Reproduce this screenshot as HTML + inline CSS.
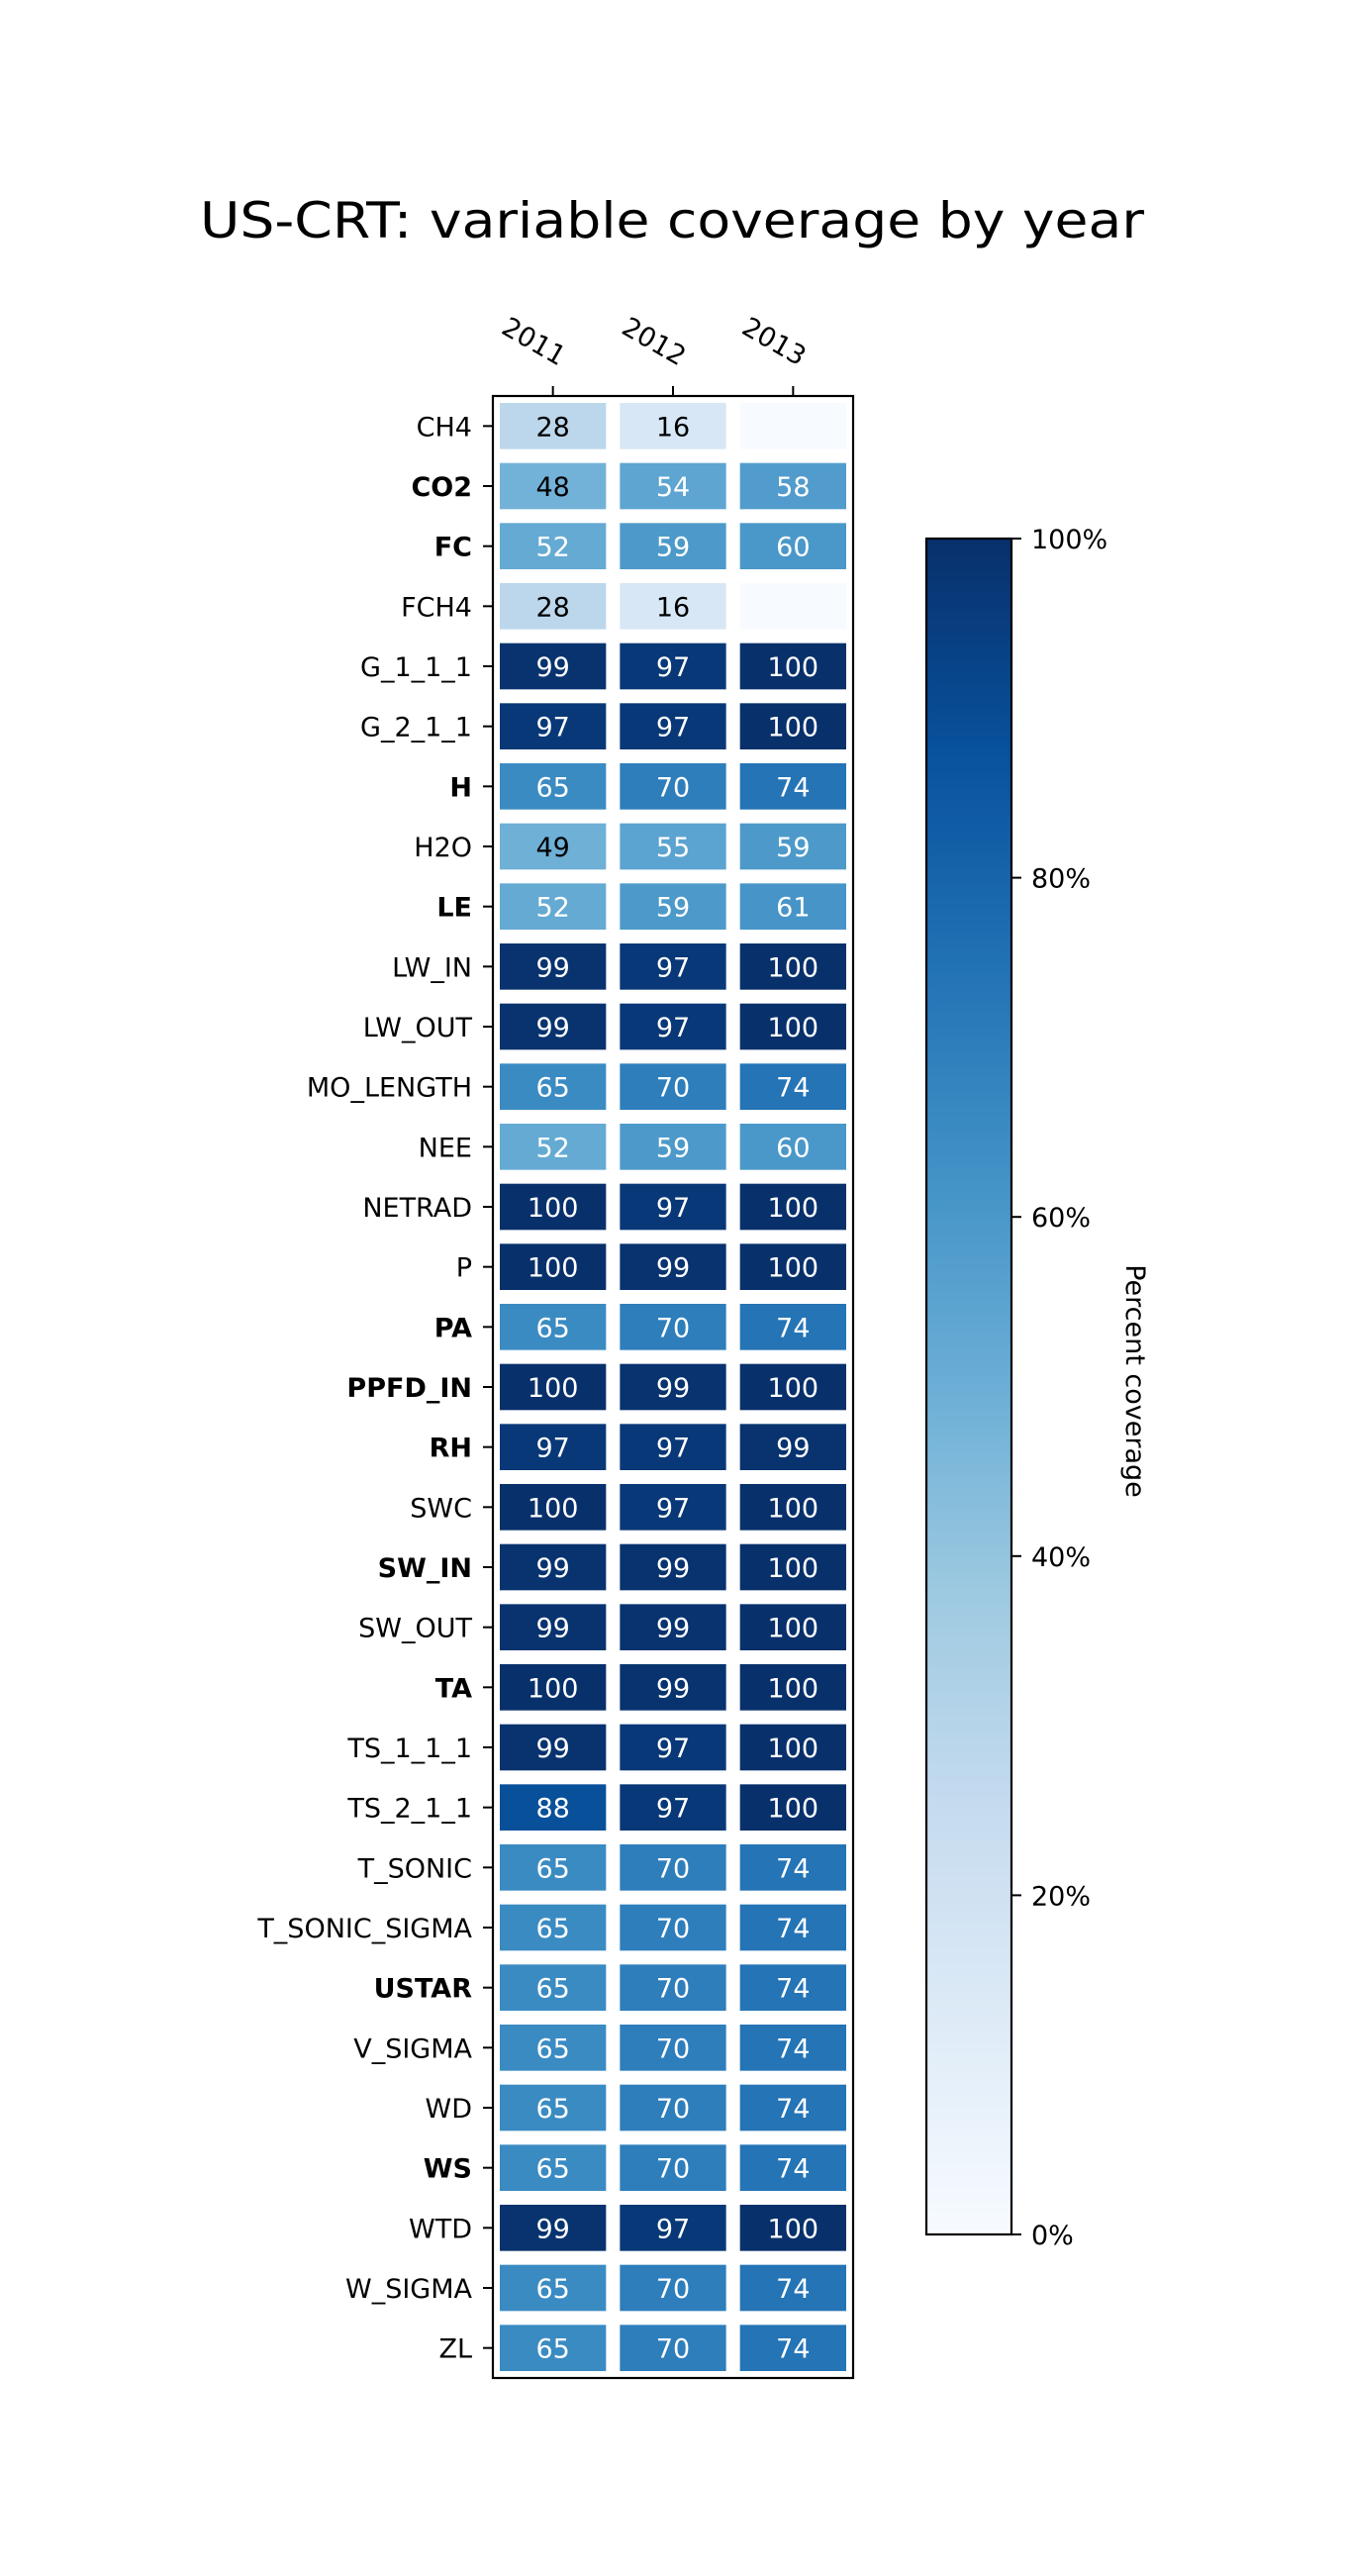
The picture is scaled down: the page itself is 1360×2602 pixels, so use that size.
<!DOCTYPE html>
<html><head><meta charset="utf-8"><style>
html,body{margin:0;padding:0;background:#fff;}
svg{display:block;font-family:"DejaVu Sans","Liberation Sans",sans-serif;}
</style></head><body>
<svg id="chart" width="1360" height="2602" viewBox="0 0 1360 2602" xmlns="http://www.w3.org/2000/svg">
<rect width="1360" height="2602" fill="#fff"/>
<text x="679" y="240" font-size="50" text-anchor="middle" textLength="954" lengthAdjust="spacingAndGlyphs">US-CRT: variable coverage by year</text>
<g id="heat"></g>
<g id="cbar"></g>
</svg>
<script>
const years = ["2011","2012","2013"];
const variables = ["CH4","CO2","FC","FCH4","G_1_1_1","G_2_1_1","H","H2O","LE","LW_IN","LW_OUT","MO_LENGTH","NEE","NETRAD","P","PA","PPFD_IN","RH","SWC","SW_IN","SW_OUT","TA","TS_1_1_1","TS_2_1_1","T_SONIC","T_SONIC_SIGMA","USTAR","V_SIGMA","WD","WS","WTD","W_SIGMA","ZL"];
const boldVars = ["CO2","FC","H","LE","PA","PPFD_IN","RH","SW_IN","TA","USTAR","WS"];
const cov2011 = [28,48,52,28,99,97,65,49,52,99,99,65,52,100,100,65,100,97,100,99,99,100,99,88,65,65,65,65,65,65,99,65,65];
const cov2012 = [16,54,59,16,97,97,70,55,59,97,97,70,59,97,99,70,99,97,97,99,99,99,97,97,70,70,70,70,70,70,97,70,70];
const cov2013 = [null,58,60,null,100,100,74,59,61,100,100,74,60,100,100,74,100,99,100,100,100,100,100,100,74,74,74,74,74,74,100,74,74];
const cbarTicks = [0,20,40,60,80,100];

const NS="http://www.w3.org/2000/svg";
function mk(tag, attrs, parent){const e=document.createElementNS(NS,tag);for(const k in attrs)e.setAttribute(k,attrs[k]);parent.appendChild(e);return e;}
const stops=["#f7fbff","#deebf7","#c6dbef","#9ecae1","#6baed6","#4292c6","#2171b5","#08519c","#08306b"];
function hex(h){return [1,3,5].map(i=>parseInt(h.substr(i,2),16));}
function blues(t){t=Math.max(0,Math.min(1,t));const p=t*8;const i=Math.min(7,Math.floor(p));const f=p-i;const a=hex(stops[i]),b=hex(stops[i+1]);return "rgb("+a.map((v,k)=>Math.round(v+(b[k]-v)*f)).join(",")+")";}

const AX={l:498,r:862,t:400,b:2402};
const cw=(AX.r-AX.l)/years.length, rh=(AX.b-AX.t)/variables.length;
const xC=i=>AX.l+cw*(i+0.5), yC=j=>AX.t+rh*(j+0.5);
const series=[cov2011,cov2012,cov2013];
const heat=document.getElementById('heat');
const pad=7;
variables.forEach((v,j)=>{
  series.forEach((s,i)=>{
    const val=s[j];
    const r=mk('rect',{x:AX.l+cw*i+pad,y:AX.t+rh*j+pad,width:cw-2*pad,height:rh-2*pad,fill:blues((val==null?0:val)/100)},heat);
    
    
    if(val!=null){
      const t=mk('text',{x:xC(i),y:yC(j)+10,'font-size':27,'text-anchor':'middle',fill:val<50?'#000':'#fff'},heat);
      t.textContent=val;
      
      
    }
  });
  mk('line',{x1:AX.l-10,x2:AX.l,y1:yC(j),y2:yC(j),stroke:'#000','stroke-width':2},heat);
  const lt=mk('text',{x:AX.l-21,y:yC(j)+10,'font-size':27,'text-anchor':'end','font-weight':boldVars.includes(v)?'bold':'normal'},heat);
  lt.textContent=v;
  
  
});
years.forEach((y,i)=>{
  mk('line',{x1:xC(i),x2:xC(i),y1:AX.t-10,y2:AX.t,stroke:'#000','stroke-width':2},heat);
  const t=mk('text',{x:0,y:0,'font-size':27,'text-anchor':'end',transform:'translate('+(xC(i)+6)+',370) rotate(30)'},heat);
  t.textContent=y;
  
  
});
const fr=mk('rect',{x:AX.l,y:AX.t,width:AX.r-AX.l,height:AX.b-AX.t,fill:'none',stroke:'#000','stroke-width':2.2},heat);



// colorbar
const CB={l:936,r:1022,t:544,b:2257};
const cb=document.getElementById('cbar');
const defs=mk('defs',{},cb);
const lg=mk('linearGradient',{id:'bg',x1:0,y1:1,x2:0,y2:0},defs);
stops.forEach((c,k)=>mk('stop',{offset:k/8,'stop-color':c},lg));
const cr=mk('rect',{x:CB.l,y:CB.t,width:CB.r-CB.l,height:CB.b-CB.t,fill:'url(#bg)',stroke:'#000','stroke-width':2.2},cb);


const cy=v=>CB.b-(v/100)*(CB.b-CB.t);
cbarTicks.forEach(v=>{
  mk('line',{x1:CB.r,x2:CB.r+10,y1:cy(v),y2:cy(v),stroke:'#000','stroke-width':2},cb);
  const t=mk('text',{x:CB.r+20,y:cy(v)+10,'font-size':27},cb);
  t.textContent=v+'%';
  
  
});
const cl=mk('text',{x:0,y:0,'font-size':27,'text-anchor':'middle',transform:'translate(1138,1395) rotate(90)'},cb);
cl.textContent='Percent coverage';


</script>
</body></html>
